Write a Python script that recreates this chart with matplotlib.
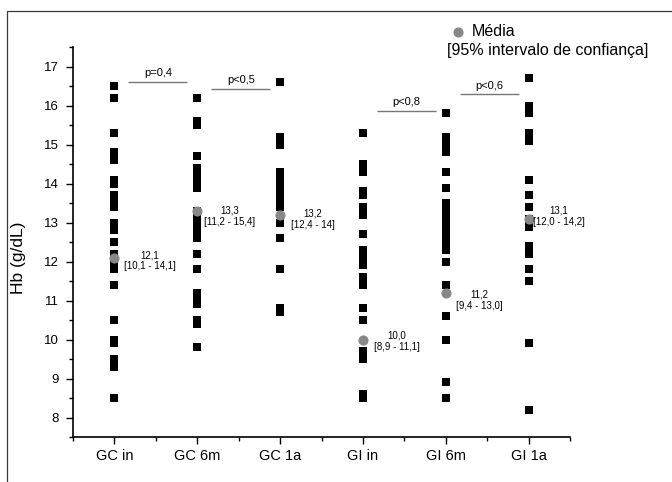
import matplotlib
matplotlib.use('Agg')
import matplotlib.pyplot as plt
from matplotlib.patches import Rectangle
from matplotlib.lines import Line2D
from matplotlib.ticker import FixedLocator, MultipleLocator

plt.rcParams['font.family'] = ['Liberation Sans', 'DejaVu Sans']

# ---------------- data ----------------
groups = ['GC in', 'GC 6m', 'GC 1a', 'GI in', 'GI 6m', 'GI 1a']

gc_in = [16.5, 16.2, 15.3, 14.8, 14.7, 14.6, 14.1, 14.0, 13.7, 13.6, 13.5, 13.4,
         13.0, 12.9, 12.8, 12.5, 12.2, 12.1, 12.0, 11.9, 11.8, 11.4, 10.5,
         10.0, 9.9, 9.5, 9.4, 9.3, 8.5]
gc_6m = [16.2, 15.6, 15.5, 14.7, 14.4, 14.3, 14.2, 14.1, 14.0, 13.9, 13.3, 13.2,
         13.1, 13.0, 12.9, 12.8, 12.6, 12.2, 11.8, 11.2, 11.1, 11.0, 10.9,
         10.5, 10.4, 9.8]
gc_1a = [16.6, 15.2, 15.1, 15.0, 14.3, 14.2, 14.1, 14.0, 13.9, 13.8, 13.7, 13.6,
         13.5, 13.4, 13.0, 12.6, 11.8, 10.8, 10.7]
gi_in = [15.3, 14.5, 14.4, 14.3, 13.8, 13.7, 13.4, 13.3, 13.2, 12.7, 12.3, 12.2,
         12.1, 12.0, 11.9, 11.6, 11.5, 11.4, 10.8, 10.5, 9.7, 9.6, 9.5, 8.6, 8.5]
gi_6m = [15.8, 15.2, 15.1, 15.0, 14.9, 14.8, 14.3, 13.9, 13.5, 13.4, 13.3, 13.2,
         13.1, 13.0, 12.9, 12.8, 12.7, 12.6, 12.5, 12.4, 12.3, 12.0, 11.4,
         10.6, 10.0, 8.9, 8.5]
gi_1a = [16.7, 16.0, 15.9, 15.8, 15.3, 15.2, 15.1, 14.1, 13.7, 13.4, 13.1, 13.0,
         12.9, 12.4, 12.3, 12.2, 11.8, 11.5, 9.9, 8.2]
series = [gc_in, gc_6m, gc_1a, gi_in, gi_6m, gi_1a]

means = [12.1, 13.3, 13.2, 10.0, 11.2, 13.1]
mean_labels = ['12,1', '13,3', '13,2', '10,0', '11,2', '13,1']
ci_labels = ['[10,1 - 14,1]', '[11,2 - 15,4]', '[12,4 - 14]',
             '[8,9 - 11,1]', '[9,4 - 13,0]', '[12,0 - 14,2]']

p_labels = ['p=0,4', 'p<0,5', 'p<0,8', 'p<0,6']
p_pairs = [(0, 1), (1, 2), (3, 4), (4, 5)]
p_levels = [16.61, 16.43, 15.87, 16.30]

yticks = [8, 9, 10, 11, 12, 13, 14, 15, 16, 17]

# ---------------- layout / style ----------------
W, H = 672, 482
fig = plt.figure(figsize=(W / 100, H / 100), dpi=100)
ax = fig.add_axes([73 / W, 1 - 437 / H, (570 - 73) / W, (437 - 47.2) / H])

# outer frame (partially visible)
fig.add_artist(Rectangle((7 / W, -0.5), 2.0, (1 - 10.5 / H) + 0.5,
                         transform=fig.transFigure, fill=False,
                         edgecolor='#3a3a3a', linewidth=0.9))

rect_marker = [(-1.22, -1), (1.22, -1), (1.22, 1), (-1.22, 1), (-1.22, -1)]
positions = list(range(1, len(groups) + 1))

for pos, vals in zip(positions, series):
    ax.plot([pos] * len(vals), vals, linestyle='none', marker=rect_marker,
            markersize=6.2, color='black', markeredgewidth=0, zorder=3)

ax.plot(positions, means, linestyle='none', marker='o', markersize=7.3,
        color='#888888', markeredgewidth=0, zorder=4)

# annotation offsets (pixels): dx, dy (positive dy = downward)
ann_off = [(35.7, 3.2), (32.7, 5.0), (32.7, 4.2), (33.7, 1.4), (34.0, 7.5), (30.0, -2.4)]
for pos, m, ml, cl, (dx, dy) in zip(positions, means, mean_labels, ci_labels, ann_off):
    ax.annotate(ml + '\n' + cl, xy=(pos, m), xytext=(dx * 0.72, -dy * 0.72),
                textcoords='offset points', ha='center', va='center',
                fontsize=7, linespacing=1.15, zorder=5)

# p-value bars
for (i, j), lvl, lab in zip(p_pairs, p_levels, p_labels):
    x0 = positions[i] + 0.17
    x1 = positions[j] - 0.12
    ax.plot([x0, x1], [lvl, lvl], color='#777777', linewidth=1.0,
            solid_capstyle='butt', zorder=2)
    ax.annotate(lab, xy=((x0 + x1) / 2, lvl), xytext=(0, 2.5),
                textcoords='offset points', ha='center', va='bottom', fontsize=8)

# axes styling
ax.set_xlim(0.5, 6.5)
ax.set_ylim(7.5, 17.5)
ax.xaxis.set_major_locator(FixedLocator(positions))
ax.set_xticklabels(groups)
ax.xaxis.set_minor_locator(MultipleLocator(0.5))
ax.yaxis.set_major_locator(FixedLocator(yticks))
ax.yaxis.set_minor_locator(MultipleLocator(0.5))

for s in ['top', 'right']:
    ax.spines[s].set_visible(False)
for s in ['left', 'bottom']:
    ax.spines[s].set_linewidth(1.2)
    ax.spines[s].set_color('black')

ax.tick_params(axis='both', which='major', direction='out', length=5, width=1.0)
ax.tick_params(axis='both', which='minor', direction='out', length=3, width=1.0)
ax.tick_params(axis='x', which='major', labelsize=10.5, pad=3.5)
ax.tick_params(axis='y', which='major', labelsize=9.5, pad=5)

ax.set_ylabel('Hb (g/dL)', fontsize=12.5)
ax.yaxis.set_label_coords(-0.095, 0.46)

# legend (top right, outside axes)
fig.add_artist(Line2D([458 / W], [1 - 32 / H], marker='o', markersize=7.3,
                      color='#888888', markeredgewidth=0, linestyle='none',
                      transform=fig.transFigure))
fig.text(472 / W, 1 - 32 / H, 'Média', fontsize=11.5, ha='left', va='center')
fig.text(447 / W, 1 - 51 / H, '[95% intervalo de confiança]', fontsize=11.5,
         ha='left', va='center')

fig.savefig('out.png', dpi=100)
